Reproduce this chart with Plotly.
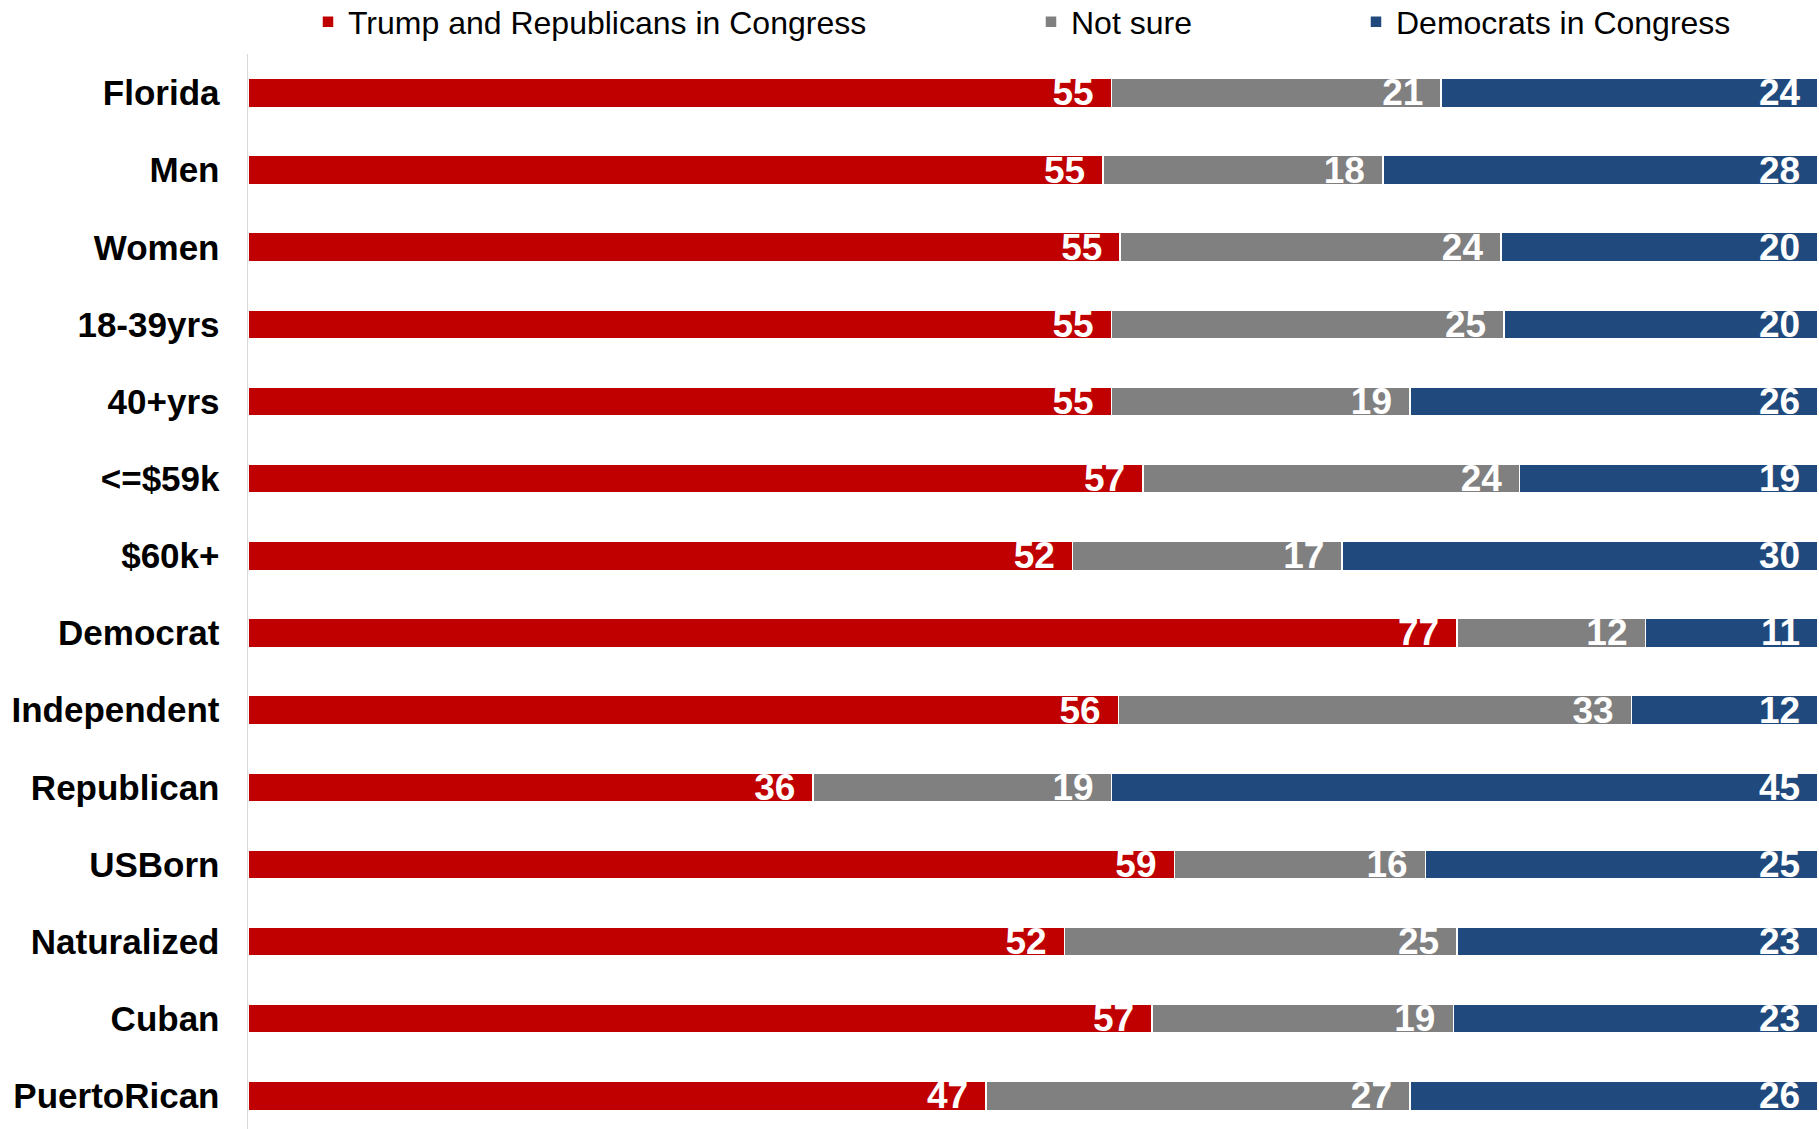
import plotly.graph_objects as go

categories = ["Florida", "Men", "Women", "18-39yrs", "40+yrs", "<=$59k", "$60k+",
              "Democrat", "Independent", "Republican", "USBorn", "Naturalized",
              "Cuban", "PuertoRican"]
trump_rep = [55, 55, 55, 55, 55, 57, 52, 77, 56, 36, 59, 52, 57, 47]
not_sure = [21, 18, 24, 25, 19, 24, 17, 12, 33, 19, 16, 25, 19, 27]
dem_congress = [24, 28, 20, 20, 26, 19, 30, 11, 12, 45, 25, 23, 23, 26]

W, H = 1819, 1129

series = [
    ("Trump and Republicans in Congress", trump_rep, "#C00000", "legend", 308),
    ("Not sure", not_sure, "#808080", "legend2", 1031),
    ("Democrats in Congress", dem_congress, "#204A7D", "legend3", 1356),
]

fig = go.Figure()
for name, vals, color, leg, lx in series:
    fig.add_trace(go.Bar(
        y=categories, x=vals, name=name, orientation="h",
        marker=dict(color=color, line=dict(color="white", width=1.5)),
        text=vals, texttemplate="%{text}\u2009\u2009",
        textposition="inside", insidetextanchor="end", constraintext="none",
        textfont=dict(color="white", size=37,
                      family="Liberation Sans Narrow, Arial Narrow, Liberation Sans, Arial, sans-serif",
                      weight="bold"),
        legend=leg, hoverinfo="skip",
    ))

leg_common = dict(orientation="h", xref="container", yref="container",
                  yanchor="middle", y=1 - 22 / H, xanchor="left",
                  font=dict(size=32, color="#000000",
                            family="Liberation Sans, Arial, sans-serif"),
                  bgcolor="rgba(0,0,0,0)", borderwidth=0, itemclick=False)

layout_legs = {}
for name, vals, color, leg, lx in series:
    layout_legs[leg] = dict(leg_common, x=lx / W)

fig.update_layout(
    width=W, height=H,
    barmode="stack", barnorm="percent", bargap=0.624,
    margin=dict(l=248, r=1, t=54, b=0, pad=0),
    plot_bgcolor="white", paper_bgcolor="white",
    showlegend=True,
    xaxis=dict(range=[0, 100], showticklabels=False, showgrid=False,
               zeroline=False, showline=False, fixedrange=True),
    yaxis=dict(type="category", range=[13.43, -0.505], showgrid=False,
               zeroline=False, showline=True, linecolor="#d9d9d9", linewidth=1.5,
               ticks="", ticklabelstandoff=20,
               tickfont=dict(size=35, color="#000000",
                             family="Liberation Sans, Arial, sans-serif",
                             weight="bold"),
               fixedrange=True),
    **layout_legs,
)

fig.write_html(
    "out.html",
    config={"displayModeBar": False, "staticPlot": True},
    post_script="document.body.style.margin='0px';document.body.style.overflow='hidden';",
)
